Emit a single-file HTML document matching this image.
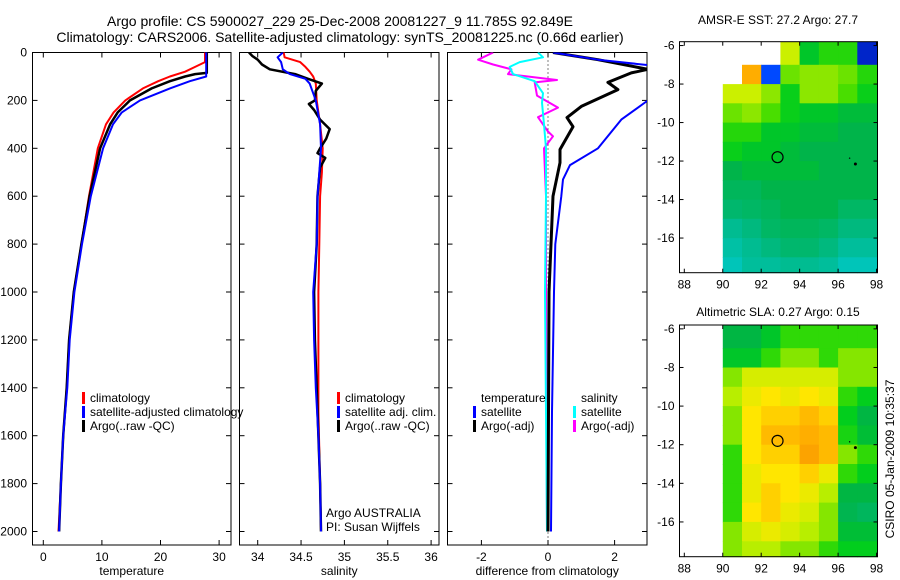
<!DOCTYPE html>
<html><head><meta charset="utf-8"><style>
html,body{margin:0;padding:0;background:#fff;}
svg{display:block;font-family:"Liberation Sans",sans-serif;}
</style></head><body>
<svg id="chart" width="900" height="580" viewBox="0 0 900 580">
<text x="340" y="26" font-size="14" text-anchor="middle">Argo profile: CS 5900027_229 25-Dec-2008 20081227_9 11.785S 92.849E</text>
<text x="340" y="42" font-size="14" text-anchor="middle">Climatology: CARS2006. Satellite-adjusted climatology: synTS_20081225.nc (0.66d earlier)</text>
<text x="778" y="24" font-size="12" text-anchor="middle">AMSR-E SST: 27.2 Argo: 27.7</text>
<text x="778" y="316" font-size="12" text-anchor="middle">Altimetric SLA: 0.27 Argo: 0.15</text>
<text x="0" y="0" font-size="12" text-anchor="middle" transform="translate(894,459) rotate(-90)">CSIRO 05-Jan-2009 10:35:37</text>
</svg>
<script>
// ---- data ----
const depthTicks=[0,200,400,600,800,1000,1200,1400,1600,1800,2000];
const tempTicks=[0,10,20,30];
const salTicks=[34,34.5,35,35.5,36];
const salTickLabels=["34","34.5","35","35.5","36"];
const diffTicks=[-2,0,2];
const lonTicks=[88,90,92,94,96,98];
const latTicks=[-6,-8,-10,-12,-14,-16];

const tClimDepth=[0,40,60,80,100,120,150,200,250,300,400,600,800,1000,1200,1400,1600,1800,2000];
const tClim=[27.6,27.6,25.9,24.2,21.6,19.6,17.0,14.0,12.0,10.7,9.3,7.8,6.5,5.2,4.4,4.0,3.4,3.0,2.6];
const tSatDepth=[0,100,120,150,200,250,300,400,600,800,1000,1200,1400,1600,1800,2000];
const tSat=[27.8,27.8,25.0,21.6,16.5,13.4,11.9,10.2,8.1,6.6,5.3,4.5,4.1,3.4,3.0,2.7];
const tArgoDepth=[0,85,90,100,120,150,200,250,300,400,600,800,1000,1200,1400,1600,1800,2000];
const tArgo=[27.9,27.9,25.9,24.2,21.6,18.5,14.8,12.7,11.4,9.7,7.9,6.5,5.2,4.4,4.0,3.4,3.0,2.7];

const sClimDepth=[0,20,40,60,80,100,130,200,300,400,500,600,800,1000,1200,1500,1800,2000];
const sClim=[34.30,34.31,34.49,34.55,34.60,34.64,34.67,34.68,34.72,34.75,34.74,34.72,34.71,34.70,34.70,34.70,34.72,34.73];
const sSatDepth=[0,20,40,70,90,110,130,160,200,300,400,500,600,800,1000,1200,1400,1600,1800,2000];
const sSat=[34.29,34.23,34.27,34.29,34.37,34.55,34.60,34.63,34.67,34.72,34.73,34.71,34.69,34.68,34.64,34.65,34.67,34.70,34.72,34.73];
const sArgoDepth=[0,15,30,50,70,90,110,130,160,200,215,240,280,320,360,400,420,440,480,600,800,1000,1200,1400,1600,1800,2000];
const sArgo=[33.90,33.94,34.00,34.05,34.14,34.43,34.58,34.74,34.67,34.66,34.59,34.65,34.72,34.83,34.79,34.72,34.69,34.78,34.72,34.69,34.68,34.65,34.66,34.68,34.70,34.72,34.73];

const dTSatDepth=[0,30,60,200,280,400,470,530,600,800,1000,1500,2000];
const dTSat=[0.15,1.5,3.5,3.0,2.2,1.5,0.66,0.45,0.4,0.22,0.18,0.12,0.09];
const dTArgoDepth=[0,30,70,85,125,155,225,272,310,405,460,600,1000,2000];
const dTArgo=[0.15,1.5,3.0,2.5,1.8,2.1,1.0,0.57,0.75,0.36,0.36,0.15,0.03,0.0];
const dSSatDepth=[0,20,40,60,90,120,170,210,300,400,600,1000,2000];
const dSSat=[-0.3,-0.15,-0.85,-1.15,-1.05,-0.4,-0.15,-0.18,-0.12,-0.06,-0.06,-0.09,-0.03];
const dSArgoDepth=[0,30,50,70,90,115,125,180,230,270,330,350,400,600,1000,2000];
const dSArgo=[-1.65,-2.1,-1.65,-1.1,-1.2,0.27,-0.4,-0.33,0.3,-0.3,0.0,0.15,-0.12,-0.06,-0.06,-0.03];

// grids: rows lat -6..-17 (cell top), cols lon 90..97
const mapLons=[90,91,92,93,94,95,96,97];
const mapLats=[-6,-7,-8,-9,-10,-11,-12,-13,-14,-15,-16,-17];
const sstGrid=[
[null,null,null,28.6,28.1,28.3,28.3,26.2],
[null,29.0,26.4,28.45,28.5,28.5,28.45,28.3],
[28.6,28.6,28.5,28.2,28.5,28.5,28.4,28.2],
[28.45,28.5,28.4,28.2,28.1,28.1,28.0,28.0],
[28.3,28.3,28.1,28.1,28.0,28.0,27.9,27.9],
[28.2,28.1,28.1,28.0,27.9,27.9,27.9,27.9],
[27.9,28.0,28.0,28.0,28.0,27.9,27.9,27.9],
[27.8,27.8,27.9,27.9,27.9,27.9,27.9,27.9],
[27.7,27.75,27.8,27.9,27.9,27.9,27.75,27.75],
[27.5,27.6,27.75,27.8,27.8,27.75,27.6,27.6],
[27.4,27.5,27.6,27.7,27.7,27.6,27.45,27.45],
[27.3,27.45,27.45,27.5,27.5,27.45,27.3,27.3]];
const slaGrid=[
[0.15,0.15,0.17,0.20,0.20,0.20,0.20,0.20],
[0.17,0.17,0.20,0.22,0.22,0.20,0.22,0.22],
[0.22,0.24,0.24,0.24,0.24,0.24,0.22,0.22],
[0.23,0.25,0.26,0.25,0.26,0.25,0.20,0.18],
[0.22,0.26,0.27,0.27,0.28,0.27,0.18,0.15],
[0.22,0.26,0.28,0.28,0.285,0.28,0.19,0.16],
[0.20,0.26,0.27,0.27,0.29,0.28,0.22,0.20],
[0.20,0.25,0.26,0.26,0.27,0.25,0.20,0.18],
[0.20,0.25,0.27,0.26,0.25,0.23,0.15,0.15],
[0.20,0.26,0.27,0.25,0.24,0.22,0.14,0.13],
[0.22,0.24,0.25,0.24,0.23,0.22,0.16,0.16],
[0.22,0.23,0.23,0.22,0.22,0.20,0.18,0.18]];
const floatLon=92.85, floatLat=-11.8;

// ---- drawing ----
const svg=document.getElementById('chart');
const NS='http://www.w3.org/2000/svg';
function mk(tag,attrs,parent){const e=document.createElementNS(NS,tag);for(const k in attrs)e.setAttribute(k,attrs[k]);(parent||svg).appendChild(e);return e;}
const yD=d=>52.5+d*479/2000;
const PT=52.5,PB=545;
const panels=[
 {name:'temperature',x0:32.5,x1:231,sx:v=>43.3+v*5.86,ticks:tempTicks,labels:tempTicks.map(String),label:'temperature'},
 {name:'salinity',x0:239.5,x1:439,sx:v=>257.7+(v-34)*86.7,ticks:salTicks,labels:salTickLabels,label:'salinity'},
 {name:'difference',x0:447.5,x1:647,sx:v=>548+v*33.3,ticks:diffTicks,labels:diffTicks.map(String),label:'difference from climatology'}];
panels.forEach((p,i)=>{
 const g=mk('g',{});
 
 
 const cp=mk('clipPath',{id:'cp'+i},g);mk('rect',{x:p.x0,y:PT,width:p.x1-p.x0,height:PB-PT},cp);
 const fr=mk('rect',{x:p.x0,y:PT,width:p.x1-p.x0,height:PB-PT,fill:'none',stroke:'#000','stroke-width':1},g);
 
 
 p.ticks.forEach((t,j)=>{const x=p.sx(t);
  mk('line',{x1:x,x2:x,y1:PB,y2:PB-5,stroke:'#000'},g);mk('line',{x1:x,x2:x,y1:PT,y2:PT+5,stroke:'#000'},g);
  const tx=mk('text',{x:x,y:PB+16,'font-size':12,'text-anchor':'middle'},g);tx.textContent=p.labels[j];
  
  });
 depthTicks.forEach(d=>{const y=yD(d);mk('line',{x1:p.x1,x2:p.x1-5,y1:y,y2:y,stroke:'#000'},g);mk('line',{x1:p.x0,x2:p.x0+5,y1:y,y2:y,stroke:'#000'},g);
  if(i===0){const tx=mk('text',{x:27,y:y+4,'font-size':12,'text-anchor':'end'},g);tx.textContent=d;
   
   }});
 const xl=mk('text',{x:(p.x0+p.x1)/2,y:575,'font-size':12,'text-anchor':'middle'},g);xl.textContent=p.label;
 
 
 p.g=mk('g',{'clip-path':'url(#cp'+i+')'},g);
});
function line(p,ds,vs,color,w,name,dash){
 const pts=ds.map((d,k)=>p.sx(vs[k]).toFixed(1)+','+yD(d).toFixed(1)).join(' ');
 const e=mk('polyline',{points:pts,fill:'none',stroke:color,'stroke-width':w,'stroke-linejoin':'round'},p.g);
 if(dash)e.setAttribute('stroke-dasharray',dash);
 
 
}
const P=panels;
const zl=mk('line',{x1:P[2].sx(0),x2:P[2].sx(0),y1:PT,y2:PB,stroke:'#000','stroke-width':1,'stroke-dasharray':'1,3'},P[2].g);


line(P[0],tClimDepth,tClim,'#f00',2,'temp-climatology-line');
line(P[0],tArgoDepth,tArgo,'#000',2.5,'temp-argo-line');
line(P[0],tSatDepth,tSat,'#00f',2,'temp-satellite-line');
line(P[1],sClimDepth,sClim,'#f00',2,'sal-climatology-line');
line(P[1],sArgoDepth,sArgo,'#000',2.5,'sal-argo-line');
line(P[1],sSatDepth,sSat,'#00f',2,'sal-satellite-line');
line(P[2],dSArgoDepth,dSArgo,'#f0f',2,'diff-sal-argo-line');
line(P[2],dSSatDepth,dSSat,'#0ff',2,'diff-sal-satellite-line');
line(P[2],dTArgoDepth,dTArgo,'#000',3,'diff-temp-argo-line');
line(P[2],dTSatDepth,dTSat,'#00f',2,'diff-temp-satellite-line');

function legend(x,y,items,name){
 items.forEach((it,k)=>{const yy=y+k*14;
  if(it[1]){const m=mk('rect',{x:x,y:yy-10,width:3,height:12,fill:it[1]});}
  const t=mk('text',{x:x+8,y:yy,'font-size':12});t.textContent=it[0];
  
  });
}
legend(82,402,[['climatology','#f00'],['satellite-adjusted climatology','#00f'],['Argo(..raw -QC)','#000']],'temp-legend');
legend(337,402,[['climatology','#f00'],['satellite adj. clim.','#00f'],['Argo(..raw -QC)','#000']],'sal-legend');
legend(473,402,[['temperature',null],['satellite','#00f'],['Argo(-adj)','#000']],'diff-temp-legend');
legend(573,402,[['salinity',null],['satellite','#0ff'],['Argo(-adj)','#f0f']],'diff-sal-legend');
const n1=mk('text',{x:326,y:517,'font-size':12});n1.textContent='Argo AUSTRALIA';

const n2=mk('text',{x:326,y:531,'font-size':12});n2.textContent='PI: Susan Wijffels';


// colormap
const stops=[[0,[0,0,128]],[0.1,[0,64,255]],[0.25,[0,160,255]],[0.35,[0,200,200]],[0.45,[0,185,130]],[0.55,[0,180,70]],[0.62,[0,205,30]],[0.68,[60,220,0]],[0.74,[200,240,0]],[0.8,[255,230,0]],[0.86,[255,170,0]],[0.93,[220,100,0]],[1,[140,0,0]]];
function cmap(t){t=Math.max(0,Math.min(1,t));for(let k=1;k<stops.length;k++){if(t<=stops[k][0]){const a=stops[k-1],b=stops[k],f=(t-a[0])/(b[0]-a[0]);return 'rgb('+a[1].map((c,j)=>Math.round(c+(b[1][j]-c)*f)).join(',')+')';}}return 'rgb(140,0,0)';}
function drawMap(top,bot,latTop,latBot,grid,vmin,vmax,name){
 const L=679.5,R=877.5,lon0=87.75,lon1=98.05;
 const sx=lon=>L+(lon-lon0)*(R-L)/(lon1-lon0);
 const sy=lat=>top+(latTop-lat)*(bot-top)/(latTop-latBot);
 const g=mk('g',{});
 
 
 grid.forEach((row,r)=>row.forEach((v,c)=>{if(v===null)return;
  const lat=mapLats[r],lon=mapLons[c];
  const yt=r===0?top:sy(lat);const yb=r===grid.length-1?bot:sy(lat-1);
  const xr=c===row.length-1?R:sx(lon+1);
  const e=mk('rect',{x:sx(lon).toFixed(1),y:yt.toFixed(1),width:(xr-sx(lon)+0.5).toFixed(1),height:(yb-yt+0.5).toFixed(1),fill:cmap((v-vmin)/(vmax-vmin))},g);
  
  }));
 mk('rect',{x:L,y:top,width:R-L,height:bot-top,fill:'none',stroke:'#000'},g);
 lonTicks.forEach(t=>{const x=sx(t);mk('line',{x1:x,x2:x,y1:bot,y2:bot-4,stroke:'#000'},g);mk('line',{x1:x,x2:x,y1:top,y2:top+4,stroke:'#000'},g);
  const tx=mk('text',{x:x,y:bot+16,'font-size':12,'text-anchor':'middle'},g);tx.textContent=t;
  });
 latTicks.forEach(t=>{const y=sy(t);mk('line',{x1:L,x2:L+4,y1:y,y2:y,stroke:'#000'},g);mk('line',{x1:R,x2:R-4,y1:y,y2:y,stroke:'#000'},g);
  const tx=mk('text',{x:L-5,y:y+4,'font-size':12,'text-anchor':'end'},g);tx.textContent=t;
  });
 const c=mk('circle',{cx:sx(floatLon),cy:sy(floatLat),r:5.5,fill:'none',stroke:'#000','stroke-width':1.2},g);
 
 mk('circle',{cx:sx(96.9),cy:sy(-12.15),r:1.5,fill:'#000'},g);
 mk('circle',{cx:sx(96.6),cy:sy(-11.85),r:0.7,fill:'#000'},g);
}
drawMap(41.7,272.7,-5.8,-17.8,sstGrid,26,29.5,'sst');
drawMap(325,556.7,-5.8,-17.8,slaGrid,-0.1,0.35,'sla');
</script>
</body></html>
